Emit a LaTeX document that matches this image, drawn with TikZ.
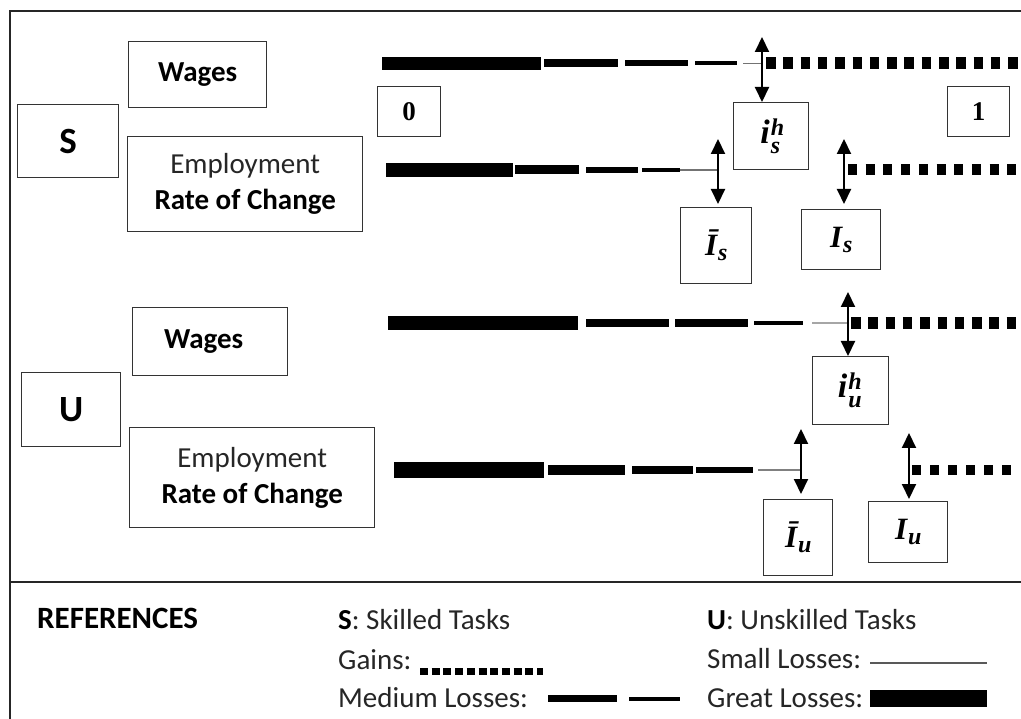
\documentclass[tikz,border=0pt]{standalone}
\usepackage{fontspec}
\setmainfont{Carlito}
\newfontfamily\mathserif{Liberation Serif}
\newcommand\subsz{\fontsize{24}{24}\selectfont}
\newcommand\subsup[3]{{\mathserif\bfseries\itshape\fontsize{34}{38}\selectfont #1\kern1pt\rlap{\raisebox{8pt}{\subsz #2}}\raisebox{-10pt}{\subsz #3}\kern2pt}}
\newcommand\subonly[2]{{\mathserif\bfseries\itshape\fontsize{31}{36}\selectfont #1\kern1pt\raisebox{-5pt}{\subsz #2}}}
\usetikzlibrary{arrows.meta}
\begin{document}
\begin{tikzpicture}[x=1pt,y=-1pt,
  box/.style={draw=black!80, line width=1.4pt, anchor=north west, inner sep=0pt, align=center, text=black},
  lbl/.style={font=\fontsize{29}{36}\selectfont},
  big/.style={font=\fontsize{37}{44}\selectfont\bfseries},
  leg/.style={anchor=base west, inner sep=0pt, text=black!85, font=\fontsize{29}{34}\selectfont},
  thinseg/.style={line width=1.3pt, draw=black!55},
  gain/.style={line width=#1, dash pattern=on 9.5pt off 7.8pt},
  dbl/.style={line width=2pt, {Triangle[length=15pt,width=14pt]}-{Triangle[length=15pt,width=14pt]}},
  frame/.style={line width=2pt, draw=black!85}
]
\clip (0,0) rectangle (1021,719);
\fill[white] (0,0) rectangle (1021,719);

% frame
\draw[frame] (1030,11) -- (9.5,11) -- (9.5,730);
\draw[frame, line width=2.8pt] (9.5,582) -- (1030,582);

% ---------- S block ----------
\node[box, lbl, minimum width=138pt, minimum height=66pt] (sw) at (128,41) {\bfseries Wages};
\node[box, big, minimum width=101pt, minimum height=73pt] (sS) at (17,104) {S};
\node[box, lbl, minimum width=235pt, minimum height=95pt] (se) at (127,136) {\color{black!85}Employment\\ \bfseries Rate of Change};
\node[box, font=\fontsize{27}{30}\selectfont\mathserif\bfseries, minimum width=63pt, minimum height=50pt] (z0) at (377,86) {0};
\node[box, font=\fontsize{27}{30}\selectfont\mathserif\bfseries, minimum width=62pt, minimum height=50pt] (z1) at (947,86) {1};
\node[box, minimum width=75pt, minimum height=67pt] (ish) at (733,102) {\subsup{i}{h}{s}};
\node[box, minimum width=71pt, minimum height=76pt] (Isb) at (680,207) {\subonly{Ī}{s}};
\node[box, minimum width=79pt, minimum height=60pt] (Is) at (801,209) {\subonly{I}{s}};

% S wages line
\draw[line width=13pt] (382,63.5) -- (541,63.5);
\draw[line width=8pt] (544,63.5) -- (618,63.5);
\draw[line width=6pt] (625,63.5) -- (688,63.5);
\draw[line width=4pt] (695,63.5) -- (737,63.5);
\draw[thinseg] (743,63.5) -- (762,63.5);
\draw[gain=12pt] (766,63.5) -- (1030,63.5);
\coordinate (a1) at (762,37);
\draw[dbl] (a1) -- (a1 |- ish.north);

% S employment line
\draw[line width=14pt] (386,170) -- (513,170);
\draw[line width=9pt] (515,170) -- (579,170);
\draw[line width=6pt] (586,170) -- (638,170);
\draw[line width=4pt] (642,170) -- (680,170);
\draw[thinseg] (680,170) -- (718,170);
\draw[gain=11pt, dash pattern=on 9pt off 8.7pt] (848,170) -- (1030,170);
\coordinate (a2) at (718,139);
\draw[dbl, shorten >=3pt] (a2) -- (a2 |- Isb.north);
\coordinate (a3) at (844,139);
\draw[dbl, shorten >=5pt] (a3) -- (a3 |- Is.north);

% ---------- U block ----------
\node[box, lbl, minimum width=155pt, minimum height=68pt] (uw) at (132,307) {\bfseries Wages\hspace*{13pt}};
\node[box, big, minimum width=99pt, minimum height=74pt] (uU) at (21,372) {U};
\node[box, lbl, minimum width=245pt, minimum height=100pt] (ue) at (129,427) {\color{black!85}Employment\\ \bfseries Rate of Change};
\node[box, minimum width=76pt, minimum height=68pt] (iuh) at (812,356) {\subsup{i}{h}{u}};
\node[box, minimum width=69pt, minimum height=76pt] (Iub) at (763,499) {\subonly{Ī}{u}};
\node[box, minimum width=79pt, minimum height=61pt] (Iu) at (868,501) {\subonly{I}{u}};

% U wages line
\draw[line width=14pt] (388,323) -- (578,323);
\draw[line width=8pt] (586,323) -- (669,323);
\draw[line width=8pt] (675,323) -- (748,323);
\draw[line width=4pt] (754,323) -- (803,323);
\draw[thinseg, draw=black!35, line width=1.6pt] (812,323) -- (848,323);
\draw[gain=12pt, dash pattern=on 9.5pt off 7.8pt] (851,323) -- (1030,323);
\coordinate (a4) at (848,292);
\draw[dbl] (a4) -- (a4 |- iuh.north);

% U employment line
\draw[line width=15pt] (394,470) -- (544,470);
\draw[line width=10pt] (548,470) -- (625,470);
\draw[line width=7pt] (632,470) -- (693,470);
\draw[line width=6pt] (696,470) -- (753,470);
\draw[thinseg, draw=black!50, line width=1.6pt] (758,470) -- (801,470);
\draw[gain=10pt, dash pattern=on 9pt off 9pt] (912,470) -- (1012,470);
\coordinate (a5) at (801,429);
\draw[dbl, shorten >=5pt] (a5) -- (a5 |- Iub.north);
\coordinate (a6) at (909,433);
\draw[dbl, shorten >=2pt] (a6) -- (a6 |- Iu.north);

% ---------- References ----------
\node[leg, text=black, font=\fontsize{31}{36}\selectfont\bfseries] (ref) at (37,628) {REFERENCES};
\node[leg] (sk) at (338,629) {{\color{black}\bfseries S}: Skilled Tasks};
\node[leg] (gn) at (338,669) {Gains:};
\node[leg] (md) at (338,707) {Medium Losses:};
\node[leg] (us) at (707,629) {{\color{black}\bfseries U}: Unskilled Tasks};
\node[leg] (sm) at (707,668) {Small Losses:};
\node[leg] (gr) at (707,707) {Great Losses:};

\draw[line width=7pt, dash pattern=on 8pt off 3.7pt] (420,671) -- (543,671);
\draw[line width=7pt] (548,698.5) -- (617,698.5);
\draw[line width=4pt] (629,698.5) -- (680,698.5);
\draw[line width=1.8pt, black!65] (870,663) -- (987,663);
\draw[line width=17pt] (870,698.5) -- (987,698.5);
\end{tikzpicture}
\end{document}
